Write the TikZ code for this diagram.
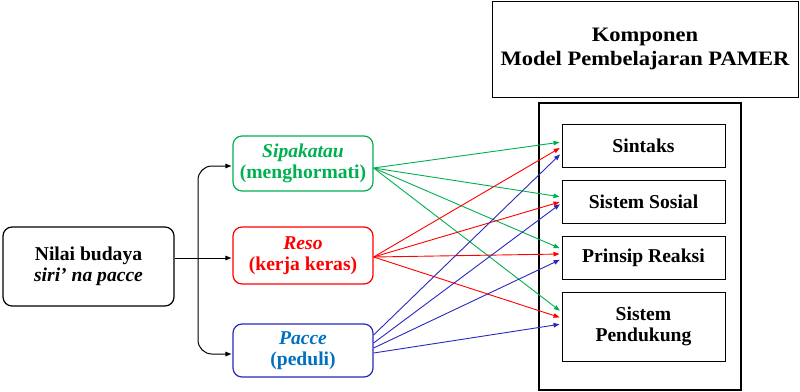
\documentclass[tikz,border=0pt]{standalone}
\usepackage{fontspec}
\setmainfont{Liberation Serif}
\newfontfamily\titlefont{Liberation Serif}[FakeStretch=1.1]
\usetikzlibrary{arrows.meta}
\definecolor{sgreen}{RGB}{0,176,80}
\definecolor{sred}{RGB}{255,0,0}
\definecolor{sblue}{RGB}{40,40,190}
\definecolor{tblue}{RGB}{0,112,192}
\tikzset{
  box/.style={draw, line width=1.2pt, align=center, inner sep=0pt,
    font=\bfseries\fontsize{19.6}{21.5}\selectfont},
  rbox/.style={box, rounded corners=9pt},
  link/.style={-{Triangle[length=6pt,width=4.5pt]}, line width=0.9pt, shorten >=2pt},
}
\begin{document}
\begin{tikzpicture}[x=1pt,y=1pt]
\useasboundingbox (0,0) rectangle (800,-391);

% value nodes
\node[rbox, minimum width=171, minimum height=79] (nilai) at (88.5,-266.5)
  {Nilai budaya\\\textit{siri’ na pacce}};
\node[rbox, draw=sgreen, text=sgreen, minimum width=140, minimum height=55] (sip) at (303,-163.5)
  {\textit{Sipakatau}\\(menghormati)};
\node[rbox, draw=sred, text=sred, minimum width=140, minimum height=57] (reso) at (303,-255.5)
  {\textit{Reso}\\(kerja keras)};
\node[rbox, draw=sblue, text=tblue, minimum width=140, minimum height=53] (pacce) at (303,-350.5)
  {\textit{Pacce}\\(peduli)};

% model components
\node[box, line width=1pt, minimum width=306, minimum height=96,
  font=\titlefont\bfseries\fontsize{20.5}{24}\selectfont] (title) at (645,-49)
  {Komponen\\Model Pembelajaran PAMER};
\node[draw, line width=2pt, minimum width=202, minimum height=287, inner sep=0pt] (frame) at (640,-246) {};
\node[box, line width=1pt, minimum width=163, minimum height=43] (sintaks) at (643.5,-145.5) {Sintaks};
\node[box, line width=1pt, minimum width=163, minimum height=43] (sosial) at (643.5,-201.5) {Sistem Sosial};
\node[box, line width=1pt, minimum width=163, minimum height=43] (reaksi) at (643.5,-257.5) {Prinsip Reaksi};
\node[box, line width=1pt, minimum width=163, minimum height=69] (dukung) at (643.5,-326.5) {Sistem\\Pendukung};

% branching from the cultural value
\coordinate (br) at (198,-258);
\draw[link, line width=1pt, shorten >=1pt] ([yshift=8.5pt]nilai.east) -- ([yshift=-2.5pt]reso.west);
\draw[link, line width=1pt, shorten >=1pt, rounded corners=14pt] (br) |- ([yshift=-2.5pt]sip.west);
\draw[link, line width=1pt, shorten >=1pt, rounded corners=14pt] (br) |- ([yshift=-3.5pt]pacce.west);

% Sipakatau links
\draw[link, sgreen] ([yshift=-4.5pt]sip.east) -- ([yshift=3.5pt]sintaks.west);
\draw[link, sgreen] ([yshift=-4.5pt]sip.east) -- ([yshift=4.5pt]sosial.west);
\draw[link, sgreen] ([yshift=-4.5pt]sip.east) -- ([yshift=8.5pt]reaksi.west);
\draw[link, sgreen] ([yshift=-4.5pt]sip.east) -- ([yshift=14.5pt]dukung.west);

% Reso links
\draw[link, sred] ([yshift=-1.5pt]reso.east) -- ([yshift=-1.5pt]sintaks.west);
\draw[link, sred] ([yshift=-1.5pt]reso.east) -- ([yshift=0pt]sosial.west);
\draw[link, sred] ([yshift=-1.5pt]reso.east) -- ([yshift=3.5pt]reaksi.west);
\draw[link, sred] ([yshift=-1.5pt]reso.east) -- ([yshift=8.5pt]dukung.west);

% Pacce links
\draw[link, sblue] ([yshift=15.5pt]pacce.east) -- ([yshift=-7.5pt]sintaks.west);
\draw[link, sblue] ([yshift=7.5pt]pacce.east) -- ([yshift=-1.5pt]sosial.west);
\draw[link, sblue] ([yshift=2.5pt]pacce.east) -- ([yshift=-1.5pt]reaksi.west);
\draw[link, sblue] ([yshift=-2.5pt]pacce.east) -- ([yshift=2.5pt]dukung.west);
\end{tikzpicture}
\end{document}
